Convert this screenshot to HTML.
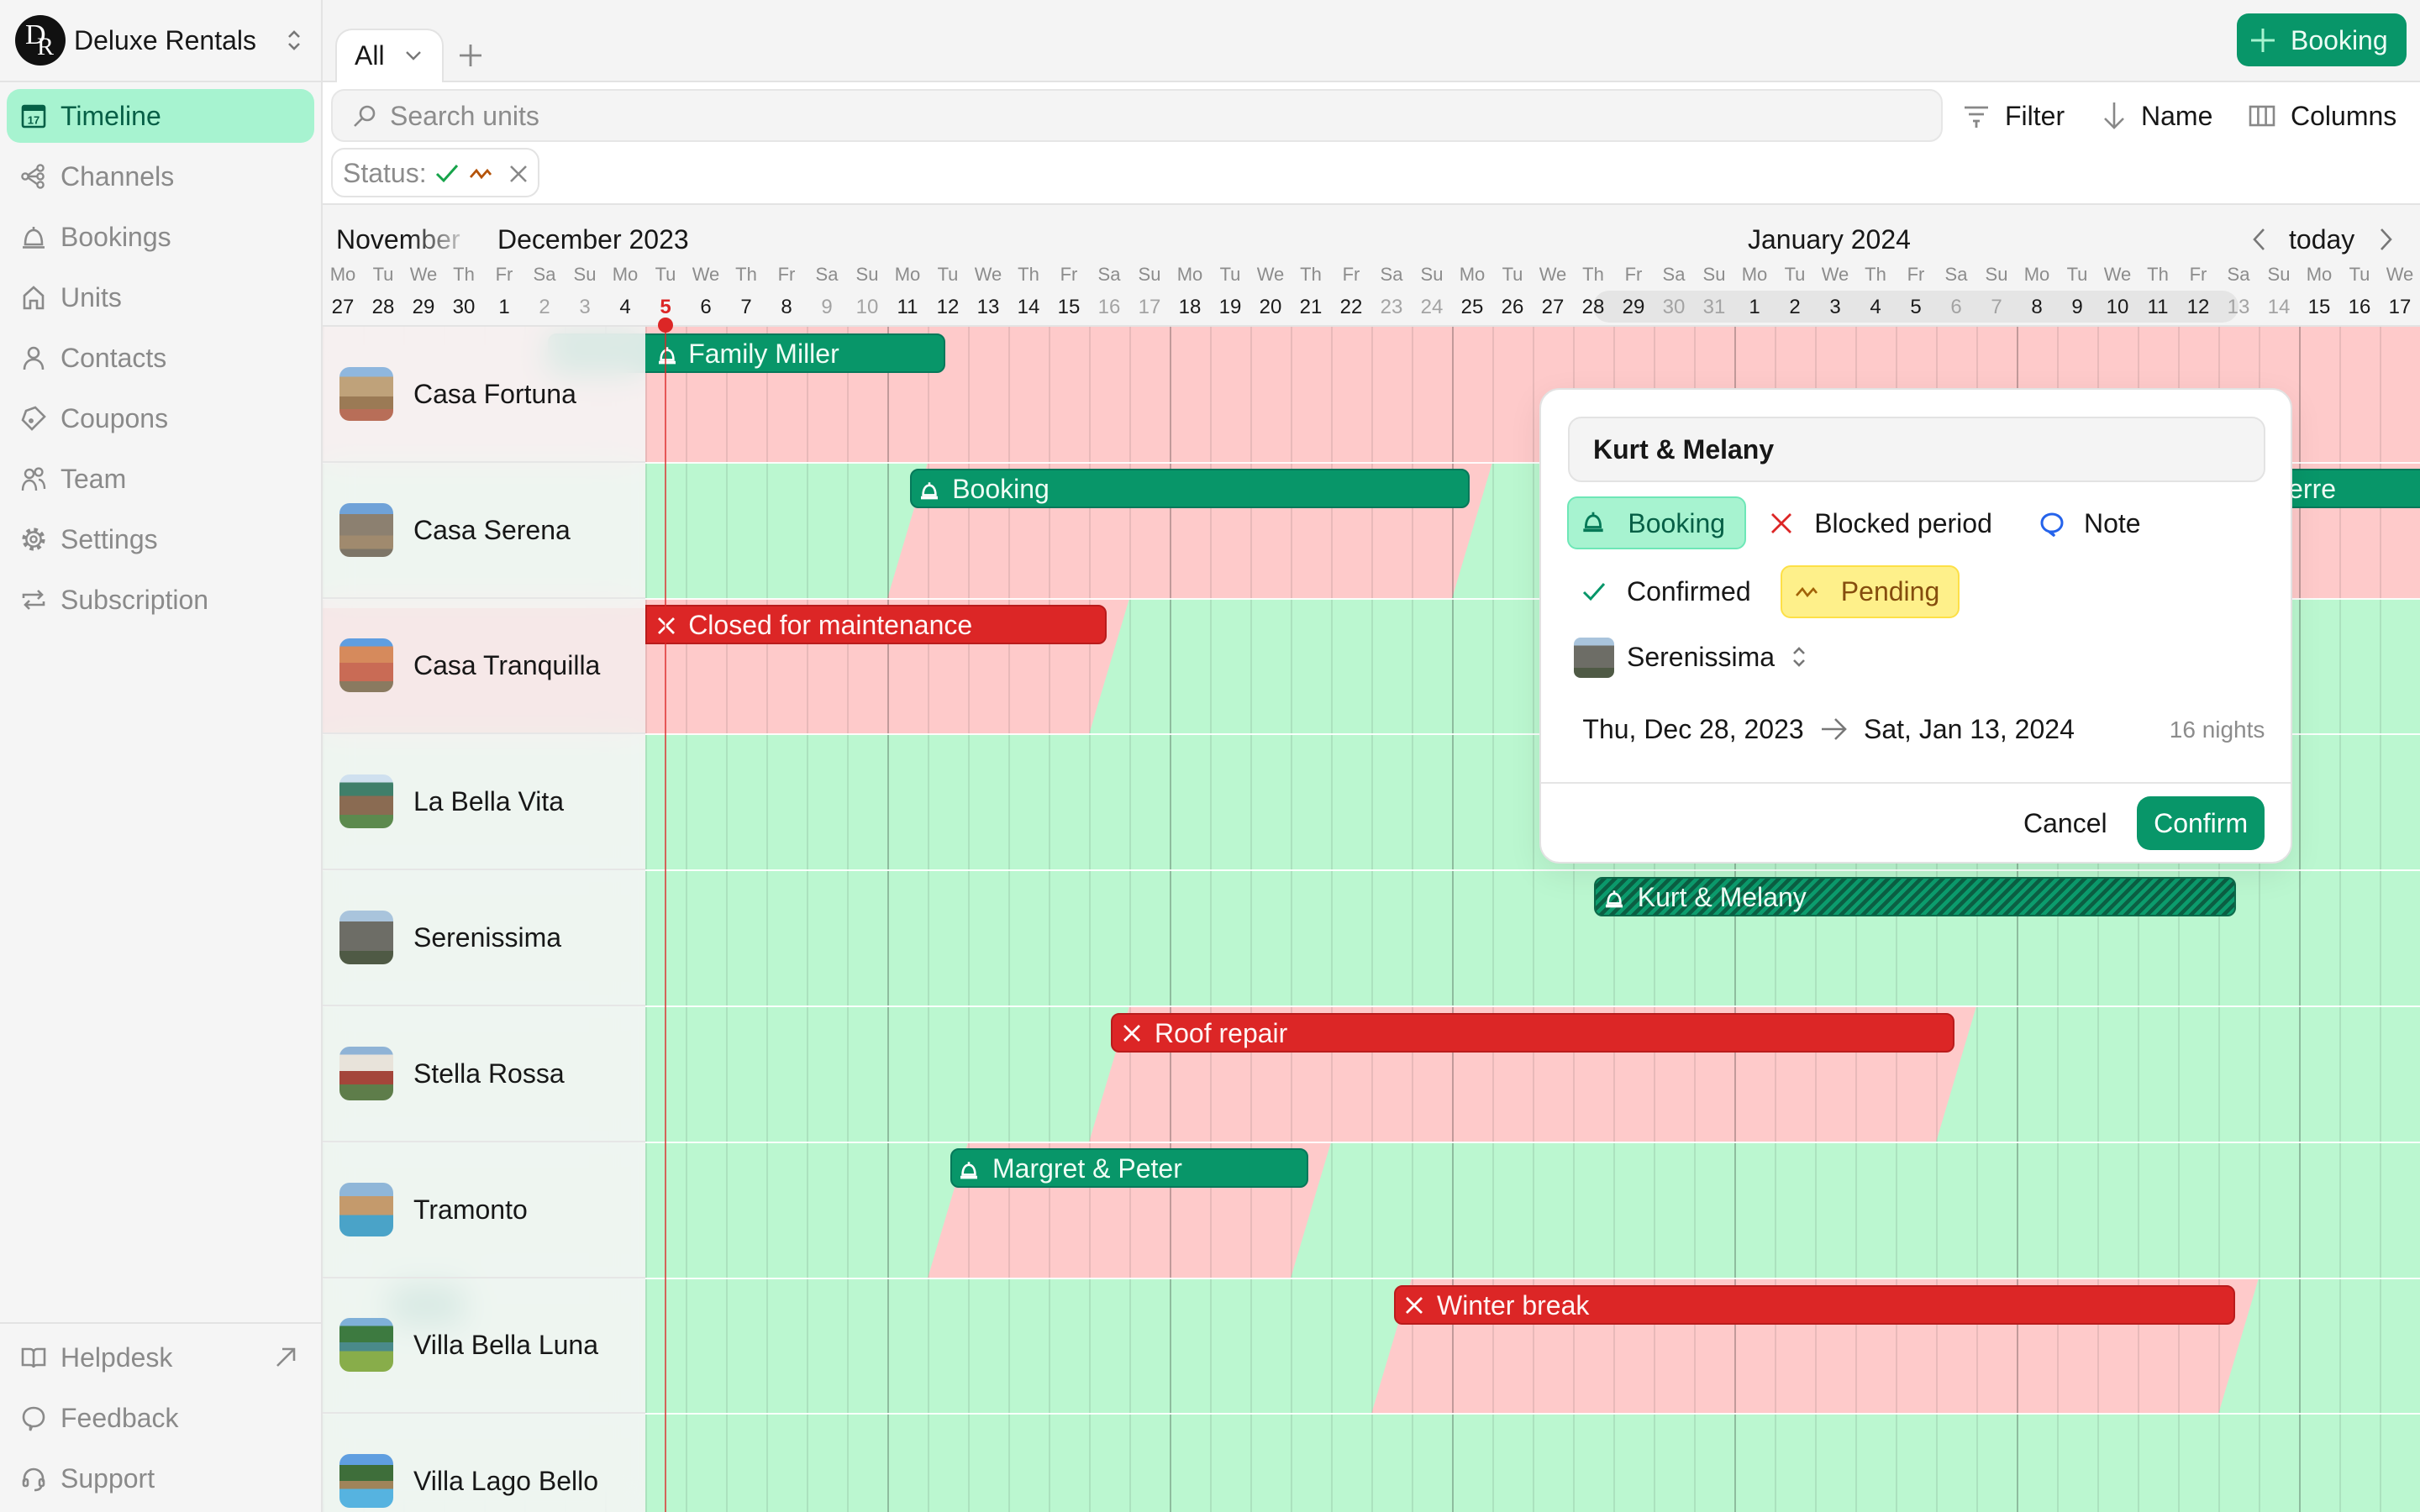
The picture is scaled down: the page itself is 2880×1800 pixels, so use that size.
<!DOCTYPE html>
<html><head><meta charset="utf-8">
<style>
html,body{margin:0;padding:0;width:2880px;height:1800px;overflow:hidden;background:#f4f4f4}
#root{zoom:2;width:1440px;height:900px;position:relative;overflow:hidden;font-family:"Liberation Sans",Arial,sans-serif;font-size:16px;color:#171717;background:#f4f4f4}
.a{position:absolute}
.t{position:absolute;line-height:20px;height:20px;white-space:nowrap}
.nav{position:absolute;left:36px;line-height:20px;height:20px;color:#8a8a8a;white-space:nowrap}
.ic{position:absolute;left:12px}
.row{display:flex;position:absolute;left:192px}
.row span{width:24px;text-align:center;flex:none}
.wk{top:154px;height:19px;line-height:19px;font-size:11px;color:#8c8c8c}
.dt{top:173.5px;height:19px;line-height:19px;font-size:12px;color:#1a1a1a}
.dt .w{color:#a3a3a3}
.bar{position:absolute;height:23.5px;border-radius:5px;box-sizing:border-box;color:#effdf5;overflow:hidden;white-space:nowrap}
.g{background:#089669;border:1px solid #06785a}
.r{background:#dc2626;border:1px solid #b91c1c;color:#fff5f5}
.s{background:repeating-linear-gradient(135deg,#0c9c6d 0 2.3px,#0c5f43 2.3px 4.6px);border:1px solid #0d6a4a}
.bl{position:absolute;top:0.5px;line-height:21.5px;font-size:16px}
.bi{position:absolute;top:5.5px}
.nm{position:absolute;left:246px;line-height:20px;height:20px;white-space:nowrap}
.th{position:absolute;left:202px;width:32px;height:32px;border-radius:6px}
.pd{position:absolute;line-height:20px;height:20px;white-space:nowrap}
</style></head>
<body><div id="root">

<!-- SIDEBAR -->
<div class="a" style="left:0;top:0;width:191px;height:900px;background:#f5f5f5;border-right:1px solid #e3e3e3"></div>
<div class="a" style="left:0;top:48px;width:1440px;height:1px;background:#e3e3e3"></div>
<div class="a" style="left:9px;top:9px;width:30px;height:30px;border-radius:50%;background:#111"></div>
<div class="a" style="left:15px;top:11px;font-family:'Liberation Serif',serif;font-size:17px;color:#fff;line-height:20px">D</div>
<div class="a" style="left:22px;top:19px;font-family:'Liberation Serif',serif;font-size:15px;color:#fff;line-height:18px">R</div>
<div class="t" style="left:44px;top:14px">Deluxe Rentals</div>
<svg class="a" style="left:170px;top:16px" width="10" height="16" viewBox="0 0 10 16"><polyline points="2,6 5,3 8,6" fill="none" stroke="#777" stroke-width="1.3"/><polyline points="2,10 5,13 8,10" fill="none" stroke="#777" stroke-width="1.3"/></svg>

<div class="a" style="left:4px;top:53px;width:183px;height:32px;border-radius:8px;background:#a7f3d0"></div>
<svg class="ic" style="top:61px" width="16" height="16" viewBox="0 0 16 16"><rect x="1.5" y="2" width="13" height="12.5" rx="1" fill="none" stroke="#065f46" stroke-width="1.3"/><rect x="1.5" y="2" width="13" height="3" fill="#065f46"/><text x="8" y="12.8" font-size="6.5" text-anchor="middle" fill="#065f46" font-family="Liberation Sans" font-weight="bold">17</text></svg>
<div class="nav" style="top:59px;color:#065f46">Timeline</div>

<svg class="ic" style="top:97px" width="16" height="16" viewBox="0 0 16 16" fill="none" stroke="#8a8a8a" stroke-width="1.2"><circle cx="3" cy="8" r="1.8"/><circle cx="12" cy="3" r="1.8"/><circle cx="12" cy="8" r="1.8"/><circle cx="12" cy="13" r="1.8"/><path d="M5 8h5M5 7l5-3.5M5 9l5 3.5"/></svg>
<div class="nav" style="top:95px">Channels</div>

<svg class="ic" style="top:133px" width="16" height="16" viewBox="0 0 16 16" fill="none" stroke="#8a8a8a" stroke-width="1.3"><path d="M3 12.5 C3 7 5 4 8 4 C11 4 13 7 13 12.5 Z"/><path d="M8 4V2"/><path d="M1.5 14.2h13"/></svg>
<div class="nav" style="top:131px">Bookings</div>

<svg class="ic" style="top:169px" width="16" height="16" viewBox="0 0 16 16" fill="none" stroke="#8a8a8a" stroke-width="1.3"><path d="M2.5 14.5V7L8 2l5.5 5v7.5H10v-4.5H6v4.5Z"/></svg>
<div class="nav" style="top:167px">Units</div>

<svg class="ic" style="top:205px" width="16" height="16" viewBox="0 0 16 16" fill="none" stroke="#8a8a8a" stroke-width="1.3"><circle cx="8" cy="5" r="3"/><path d="M2.5 15c0-4 2.5-6 5.5-6s5.5 2 5.5 6"/></svg>
<div class="nav" style="top:203px">Contacts</div>

<svg class="ic" style="top:241px" width="16" height="16" viewBox="0 0 16 16" fill="none" stroke="#8a8a8a" stroke-width="1.3"><path d="M9 1.5l5.5 5.5-7.5 7.5-5.5-5.5 2-5.5z"/><circle cx="6.5" cy="9.5" r="0.8"/></svg>
<div class="nav" style="top:239px">Coupons</div>

<svg class="ic" style="top:277px" width="16" height="16" viewBox="0 0 16 16" fill="none" stroke="#8a8a8a" stroke-width="1.2"><circle cx="5.5" cy="5" r="2.5"/><circle cx="11" cy="4" r="2.2"/><path d="M1.5 15c0-4 1.8-6 4-6s4 2 4 6M11 8.5c2 0 3.5 2 3.5 5.5"/></svg>
<div class="nav" style="top:275px">Team</div>

<svg class="ic" style="top:313px" width="16" height="16" viewBox="0 0 16 16" fill="none" stroke="#8a8a8a"><circle cx="8" cy="8" r="5.6" stroke-width="2.4" stroke-dasharray="2.2 2.2"/><circle cx="8" cy="8" r="4.3" stroke-width="1.2"/><circle cx="8" cy="8" r="1.8" stroke-width="1.2"/></svg>
<div class="nav" style="top:311px">Settings</div>

<svg class="ic" style="top:349px" width="16" height="16" viewBox="0 0 16 16" fill="none" stroke="#8a8a8a" stroke-width="1.3"><path d="M2 7V5h11M10.5 2.5L13 5l-2.5 2.5M14 9v2H3M5.5 8.5L3 11l2.5 2.5"/></svg>
<div class="nav" style="top:347px">Subscription</div>

<div class="a" style="left:0;top:787px;width:191px;height:1px;background:#e3e3e3"></div>
<svg class="ic" style="top:800px" width="16" height="16" viewBox="0 0 16 16" fill="none" stroke="#8a8a8a" stroke-width="1.3"><path d="M1.5 3h4.5c1 0 2 .8 2 2v9c0-1-1-1.5-2-1.5H1.5ZM14.5 3H10c-1 0-2 .8-2 2v9c0-1 1-1.5 2-1.5h4.5Z"/></svg>
<div class="nav" style="top:798px">Helpdesk</div>
<svg class="a" style="left:163px;top:801px" width="14" height="14" viewBox="0 0 14 14" fill="none" stroke="#8a8a8a" stroke-width="1.3"><path d="M2 12L12 2M5 2h7v7"/></svg>
<svg class="ic" style="top:836px" width="16" height="16" viewBox="0 0 16 16" fill="none" stroke="#8a8a8a" stroke-width="1.3"><path d="M8 2c3.5 0 6 2.3 6 5.5S11.5 13 8 13H7l-1 2.5V12.6C3.5 12 2 10 2 7.5 2 4.3 4.5 2 8 2z"/></svg>
<div class="nav" style="top:834px">Feedback</div>
<svg class="ic" style="top:872px" width="16" height="16" viewBox="0 0 16 16" fill="none" stroke="#8a8a8a" stroke-width="1.3"><path d="M2.5 10V8a5.5 5.5 0 0 1 11 0v2"/><rect x="2" y="8.5" width="2.5" height="4" rx="1"/><rect x="11.5" y="8.5" width="2.5" height="4" rx="1"/><path d="M12.5 12.5c0 1.5-1.5 2.5-4 2.5"/></svg>
<div class="nav" style="top:870px">Support</div>

<!-- TOP BAR -->
<div class="a" style="left:199.5px;top:17px;width:64.5px;height:32px;background:#fff;border:1px solid #e3e3e3;border-bottom:none;border-radius:10px 10px 0 0;box-sizing:border-box"></div>
<div class="t" style="left:211px;top:23px">All</div>
<svg class="a" style="left:241px;top:29px" width="10" height="8" viewBox="0 0 10 8"><polyline points="1,2 5,6 9,2" fill="none" stroke="#777" stroke-width="1.2"/></svg>
<svg class="a" style="left:273px;top:26px" width="14" height="14" viewBox="0 0 14 14"><path d="M7 0.5v13M0.5 7h13" stroke="#888" stroke-width="1.4"/></svg>

<div class="a" style="left:1331px;top:8px;width:101px;height:31.5px;border-radius:7px;background:#089669"></div>
<svg class="a" style="left:1339px;top:16.5px" width="15" height="15" viewBox="0 0 15 15"><path d="M7.5 0.5v14M0.5 7.5h14" stroke="#a7f3d0" stroke-width="1.5"/></svg>
<div class="t" style="left:1363px;top:14px;color:#ecfdf5">Booking</div>

<!-- TOOLBAR -->
<div class="a" style="left:192px;top:49px;width:1248px;height:72px;background:#fff;border-bottom:1px solid #e3e3e3"></div>
<div class="a" style="left:197px;top:53px;width:959px;height:31.5px;background:#f4f4f4;border:1px solid #e6e6e6;border-radius:8px;box-sizing:border-box"></div>
<svg class="a" style="left:210px;top:62px" width="14" height="14" viewBox="0 0 14 14" fill="none" stroke="#8a8a8a" stroke-width="1.3"><circle cx="8.5" cy="5.5" r="4"/><path d="M5.5 8.5L1 13"/></svg>
<div class="t" style="left:232px;top:59px;color:#8c8c8c">Search units</div>

<svg class="a" style="left:1168px;top:62px" width="16" height="14" viewBox="0 0 16 14" stroke="#888" stroke-width="1.4"><path d="M1 2h14M3.5 6h9M6 10h4M8 10v4"/></svg>
<div class="t" style="left:1193px;top:59px">Filter</div>
<svg class="a" style="left:1251px;top:60px" width="14" height="17" viewBox="0 0 14 17" fill="none" stroke="#888" stroke-width="1.3"><path d="M7 1v15M1.5 10.5L7 16l5.5-5.5"/></svg>
<div class="t" style="left:1274px;top:59px">Name</div>
<svg class="a" style="left:1338px;top:62px" width="16" height="14" viewBox="0 0 16 14" fill="none" stroke="#888" stroke-width="1.3"><rect x="1" y="1.5" width="14" height="11"/><path d="M5.7 1.5v11M10.3 1.5v11"/></svg>
<div class="t" style="left:1363px;top:59px">Columns</div>

<div class="a" style="left:197px;top:88px;width:124px;height:29.5px;border:1px solid #e3e3e3;border-radius:8px;background:#fff;box-sizing:border-box"></div>
<div class="t" style="left:204px;top:93px;color:#8c8c8c">Status:</div>
<svg class="a" style="left:259px;top:97px" width="14" height="12" viewBox="0 0 14 12" fill="none" stroke="#16a34a" stroke-width="1.5"><path d="M1 6.5l4 4L13 1.5"/></svg>
<svg class="a" style="left:279px;top:99px" width="14" height="9" viewBox="0 0 14 9" fill="none" stroke="#b45309" stroke-width="1.4"><path d="M1 6.5l3.5-4 3 4 3.5-4 2 2.5"/></svg>
<svg class="a" style="left:303px;top:98px" width="11" height="11" viewBox="0 0 11 11" stroke="#888" stroke-width="1.3"><path d="M1 1l9 9M10 1l-9 9"/></svg>

<!-- DATE HEADER -->
<div class="t" style="left:200px;top:132.5px;background:linear-gradient(90deg,#171717 0,#171717 58%,#c4c4c4 100%);-webkit-background-clip:text;background-clip:text;color:transparent">November</div>
<div class="t" style="left:296px;top:132.5px">December 2023</div>
<div class="t" style="left:1040px;top:132.5px">January 2024</div>
<svg class="a" style="left:1340px;top:135.5px" width="8" height="14" viewBox="0 0 8 14" fill="none" stroke="#777" stroke-width="1.3"><path d="M7 1L1.5 7 7 13"/></svg>
<div class="t" style="left:1362px;top:132.5px">today</div>
<svg class="a" style="left:1416px;top:135.5px" width="8" height="14" viewBox="0 0 8 14" fill="none" stroke="#777" stroke-width="1.3"><path d="M1 1l5.5 6L1 13"/></svg>

<div class="a" style="left:948px;top:173px;width:384px;height:19px;border-radius:9.5px;background:#e5e5e5"></div>

<div class="row wk"><span>Mo</span><span>Tu</span><span>We</span><span>Th</span><span>Fr</span><span>Sa</span><span>Su</span><span>Mo</span><span>Tu</span><span>We</span><span>Th</span><span>Fr</span><span>Sa</span><span>Su</span><span>Mo</span><span>Tu</span><span>We</span><span>Th</span><span>Fr</span><span>Sa</span><span>Su</span><span>Mo</span><span>Tu</span><span>We</span><span>Th</span><span>Fr</span><span>Sa</span><span>Su</span><span>Mo</span><span>Tu</span><span>We</span><span>Th</span><span>Fr</span><span>Sa</span><span>Su</span><span>Mo</span><span>Tu</span><span>We</span><span>Th</span><span>Fr</span><span>Sa</span><span>Su</span><span>Mo</span><span>Tu</span><span>We</span><span>Th</span><span>Fr</span><span>Sa</span><span>Su</span><span>Mo</span><span>Tu</span><span>We</span></div>
<div class="row dt"><span>27</span><span>28</span><span>29</span><span>30</span><span>1</span><span class="w">2</span><span class="w">3</span><span>4</span><span style="color:#dc2626;font-weight:bold">5</span><span>6</span><span>7</span><span>8</span><span class="w">9</span><span class="w">10</span><span>11</span><span>12</span><span>13</span><span>14</span><span>15</span><span class="w">16</span><span class="w">17</span><span>18</span><span>19</span><span>20</span><span>21</span><span>22</span><span class="w">23</span><span class="w">24</span><span>25</span><span>26</span><span>27</span><span>28</span><span>29</span><span class="w">30</span><span class="w">31</span><span>1</span><span>2</span><span>3</span><span>4</span><span>5</span><span class="w">6</span><span class="w">7</span><span>8</span><span>9</span><span>10</span><span>11</span><span>12</span><span class="w">13</span><span class="w">14</span><span>15</span><span>16</span><span>17</span></div>

<div class="a" style="left:192px;top:193.5px;width:1248px;height:1px;background:#e3e3e3"></div>

<!-- GRID -->
<svg class="a" style="left:192px;top:194.5px" width="1248" height="706" viewBox="0 0 1248 706">
<rect x="0" y="0" width="1248" height="706" fill="#bbf7d0"/>
<g fill="#fecaca">
<rect x="0" y="0" width="1248" height="80.9"/>
<polygon points="360,80.9 696,80.9 672,161.8 336,161.8"/>
<polygon points="1110,80.9 1260,80.9 1260,161.8 1086,161.8"/>
<polygon points="0,161.8 480,161.8 456,242.7 0,242.7"/>
<polygon points="480,404.5 984,404.5 960,485.4 456,485.4"/>
<polygon points="384,485.4 600,485.4 576,566.3 360,566.3"/>
<polygon points="648,566.3 1152,566.3 1128,647.2 624,647.2"/>
</g>
</svg>
<div class="a" style="left:192px;top:194.5px;width:1248px;height:706px;background:repeating-linear-gradient(90deg,rgba(0,0,0,0.17) 0 1px,transparent 1px 168px),repeating-linear-gradient(90deg,rgba(0,0,0,0.085) 0 1px,transparent 1px 24px)"></div>
<div class="a" style="left:192px;top:274.9px;width:1248px;height:1px;background:rgba(255,255,255,.9)"></div>
<div class="a" style="left:192px;top:355.8px;width:1248px;height:1px;background:rgba(255,255,255,.9)"></div>
<div class="a" style="left:192px;top:436.7px;width:1248px;height:1px;background:rgba(255,255,255,.9)"></div>
<div class="a" style="left:192px;top:517.6px;width:1248px;height:1px;background:rgba(255,255,255,.9)"></div>
<div class="a" style="left:192px;top:598.5px;width:1248px;height:1px;background:rgba(255,255,255,.9)"></div>
<div class="a" style="left:192px;top:679.4px;width:1248px;height:1px;background:rgba(255,255,255,.9)"></div>
<div class="a" style="left:192px;top:760.3px;width:1248px;height:1px;background:rgba(255,255,255,.9)"></div>
<div class="a" style="left:192px;top:841.2px;width:1248px;height:1px;background:rgba(255,255,255,.9)"></div>

<!-- BARS -->
<div class="bar g" style="left:326px;top:198.4px;width:236.5px">
 <svg class="bi" style="left:64px" width="12" height="12" viewBox="0 0 12 12" fill="none" stroke="#fff" stroke-width="1.3"><path d="M2.3 9.2C2.3 5.5 3.8 3.4 6 3.4s3.7 2.1 3.7 5.8Z"/><path d="M6 3.4V1.6"/><path d="M1 10.8h10" stroke-width="1.8"/></svg>
 <span class="bl" style="left:82.6px">Family Miller</span></div>
<div class="bar g" style="left:541.6px;top:279.1px;width:333px">
 <svg class="bi" style="left:4.5px" width="12" height="12" viewBox="0 0 12 12" fill="none" stroke="#fff" stroke-width="1.3"><path d="M2.3 9.2C2.3 5.5 3.8 3.4 6 3.4s3.7 2.1 3.7 5.8Z"/><path d="M6 3.4V1.6"/><path d="M1 10.8h10" stroke-width="1.8"/></svg>
 <span class="bl" style="left:24px">Booking</span></div>
<div class="bar g" style="left:1270px;top:279.1px;width:200px">
 <span class="bl" style="left:19.4px">Anne &amp; Pierre</span></div>
<div class="bar r" style="left:384px;top:360px;width:274.4px;border-radius:0 5px 5px 0">
 <svg class="bi" style="left:6px;top:5.8px" width="11" height="11" viewBox="0 0 11 11" stroke="#fff" stroke-width="1.4"><path d="M1 1l9 9M10 1l-9 9"/></svg>
 <span class="bl" style="left:24.6px">Closed for maintenance</span></div>
<div class="bar s" style="left:948.7px;top:522px;width:382px">
 <svg class="bi" style="left:5px" width="12" height="12" viewBox="0 0 12 12" fill="none" stroke="#fff" stroke-width="1.3"><path d="M2.3 9.2C2.3 5.5 3.8 3.4 6 3.4s3.7 2.1 3.7 5.8Z"/><path d="M6 3.4V1.6"/><path d="M1 10.8h10" stroke-width="1.8"/></svg>
 <span class="bl" style="left:24.7px">Kurt &amp; Melany</span></div>
<div class="bar r" style="left:661px;top:602.8px;width:502px">
 <svg class="bi" style="left:6px;top:5.8px" width="11" height="11" viewBox="0 0 11 11" stroke="#fff" stroke-width="1.4"><path d="M1 1l9 9M10 1l-9 9"/></svg>
 <span class="bl" style="left:25px">Roof repair</span></div>
<div class="bar g" style="left:565.7px;top:683.7px;width:213px">
 <svg class="bi" style="left:4px" width="12" height="12" viewBox="0 0 12 12" fill="none" stroke="#fff" stroke-width="1.3"><path d="M2.3 9.2C2.3 5.5 3.8 3.4 6 3.4s3.7 2.1 3.7 5.8Z"/><path d="M6 3.4V1.6"/><path d="M1 10.8h10" stroke-width="1.8"/></svg>
 <span class="bl" style="left:23.8px">Margret &amp; Peter</span></div>
<div class="bar r" style="left:829.4px;top:764.8px;width:500.6px">
 <svg class="bi" style="left:5.5px;top:5.8px" width="11" height="11" viewBox="0 0 11 11" stroke="#fff" stroke-width="1.4"><path d="M1 1l9 9M10 1l-9 9"/></svg>
 <span class="bl" style="left:24.6px">Winter break</span></div>
<div class="bar g" style="left:232px;top:764.8px;width:44px"></div>

<!-- TODAY LINE -->
<div class="a" style="left:395.5px;top:194px;width:1px;height:706px;background:rgba(220,38,38,.7)"></div>
<div class="a" style="left:391.5px;top:188.8px;width:9px;height:9px;border-radius:50%;background:#dc2626"></div>

<!-- NAME PANEL -->
<div class="a" style="left:192px;top:194.5px;width:192px;height:706px;background:rgba(245,245,245,.88);-webkit-backdrop-filter:blur(9px);backdrop-filter:blur(9px)"></div>
<div class="a" style="left:192px;top:362px;width:192px;height:74px;background:rgba(250,200,200,.18)"></div>
<div class="a" style="left:192px;top:274.4px;width:192px;height:1px;background:#e6e6e6"></div>
<div class="a" style="left:192px;top:355.3px;width:192px;height:1px;background:#e6e6e6"></div>
<div class="a" style="left:192px;top:436.2px;width:192px;height:1px;background:#e6e6e6"></div>
<div class="a" style="left:192px;top:517.1px;width:192px;height:1px;background:#e6e6e6"></div>
<div class="a" style="left:192px;top:598px;width:192px;height:1px;background:#e6e6e6"></div>
<div class="a" style="left:192px;top:678.9px;width:192px;height:1px;background:#e6e6e6"></div>
<div class="a" style="left:192px;top:759.8px;width:192px;height:1px;background:#e6e6e6"></div>
<div class="a" style="left:192px;top:840.7px;width:192px;height:1px;background:#e6e6e6"></div>

<div class="th" style="top:218.4px;background:linear-gradient(180deg,#8fb7de 0 18%,#bfa27a 18% 55%,#9b7a55 55% 78%,#b86e58 78%)"></div>
<div class="nm" style="top:224.4px">Casa Fortuna</div>
<div class="th" style="top:299.3px;background:linear-gradient(180deg,#6fa2d8 0 20%,#8c8070 20% 60%,#a08a6e 60% 85%,#7d7567 85%)"></div>
<div class="nm" style="top:305.3px">Casa Serena</div>
<div class="th" style="top:380.2px;background:linear-gradient(180deg,#5f9ee0 0 15%,#d68a5c 15% 45%,#c96b55 45% 80%,#8a7a60 80%)"></div>
<div class="nm" style="top:386.2px">Casa Tranquilla</div>
<div class="th" style="top:461.1px;background:linear-gradient(180deg,#cfe0ef 0 15%,#3f7f6a 15% 40%,#8a6b52 40% 75%,#5c8a4e 75%)"></div>
<div class="nm" style="top:467.1px">La Bella Vita</div>
<div class="th" style="top:542px;background:linear-gradient(180deg,#a9c4dc 0 20%,#6d6d66 20% 75%,#4f5a45 75%)"></div>
<div class="nm" style="top:548px">Serenissima</div>
<div class="th" style="top:622.9px;background:linear-gradient(180deg,#8fb3d6 0 15%,#e8e3da 15% 45%,#a4453a 45% 70%,#5e7d4a 70%)"></div>
<div class="nm" style="top:628.9px">Stella Rossa</div>
<div class="th" style="top:703.8px;background:linear-gradient(180deg,#8fb6d8 0 25%,#c49a6c 25% 60%,#4aa3c8 60%)"></div>
<div class="nm" style="top:709.8px">Tramonto</div>
<div class="th" style="top:784.7px;background:linear-gradient(180deg,#7fb0d8 0 15%,#3d7a40 15% 45%,#4a8a8a 45% 62%,#88ad4a 62%)"></div>
<div class="nm" style="top:790.7px">Villa Bella Luna</div>
<div class="th" style="top:865.6px;background:linear-gradient(180deg,#5f9ee0 0 20%,#3e6e3a 20% 50%,#a0845a 50% 65%,#56b3e0 65%)"></div>
<div class="nm" style="top:871.6px">Villa Lago Bello</div>

<!-- POPUP -->
<div class="a" style="left:916px;top:231px;width:448px;height:283px;background:#fff;border:1px solid #e2e2e2;border-radius:12px;box-shadow:0 6px 20px rgba(0,0,0,.08);box-sizing:border-box">
 <div class="a" style="left:16px;top:16px;width:415px;height:39px;background:#f4f4f4;border:1px solid #e3e3e3;border-radius:8px;box-sizing:border-box"></div>
 <div class="pd" style="left:31px;top:25.5px;font-weight:bold">Kurt &amp; Melany</div>

 <div class="a" style="left:15.6px;top:63.5px;width:106.4px;height:31.7px;background:#a7f3d0;border:1px solid #6ee7b7;border-radius:6px;box-sizing:border-box"></div>
 <svg class="a" style="left:24px;top:71px" width="14" height="14" viewBox="0 0 12 12" fill="none" stroke="#047857" stroke-width="1.2"><path d="M2.3 9.2C2.3 5.5 3.8 3.4 6 3.4s3.7 2.1 3.7 5.8Z"/><path d="M6 3.4V1.6"/><path d="M1 10.8h10" stroke-width="1.6"/></svg>
 <div class="pd" style="left:51.7px;top:69.5px;color:#065f46">Booking</div>
 <svg class="a" style="left:136.6px;top:73px" width="13" height="13" viewBox="0 0 13 13" stroke="#dc2626" stroke-width="1.4"><path d="M1 1l11 11M12 1L1 12"/></svg>
 <div class="pd" style="left:162.6px;top:69.5px">Blocked period</div>
 <svg class="a" style="left:296px;top:72px" width="16" height="16" viewBox="0 0 16 16" fill="none" stroke="#2563eb" stroke-width="1.5"><path d="M8 2c3.3 0 6 2.2 6 5.2S11.3 12.5 8 12.5H7.5l2 2.5-3.5-2.7C3.7 11.6 2 9.7 2 7.2 2 4.2 4.7 2 8 2z"/></svg>
 <div class="pd" style="left:323px;top:69.5px">Note</div>

 <svg class="a" style="left:24.5px;top:114px" width="14" height="12" viewBox="0 0 14 12" fill="none" stroke="#059669" stroke-width="1.5"><path d="M1 6.5l4 4L13 1.5"/></svg>
 <div class="pd" style="left:51px;top:110px">Confirmed</div>
 <div class="a" style="left:142.6px;top:104.5px;width:106.2px;height:31.6px;background:#fef08a;border:1px solid #fde047;border-radius:6px;box-sizing:border-box"></div>
 <svg class="a" style="left:151px;top:116px" width="14" height="9" viewBox="0 0 14 9" fill="none" stroke="#a16207" stroke-width="1.3"><path d="M1 6.5l3.5-4 3 4 3.5-4 2 2.5"/></svg>
 <div class="pd" style="left:178.4px;top:110px;color:#854d0e">Pending</div>

 <div class="a" style="left:19.4px;top:147.5px;width:24px;height:24px;border-radius:4px;background:linear-gradient(180deg,#a9c4dc 0 20%,#6d6d66 20% 75%,#4f5a45 75%)"></div>
 <div class="pd" style="left:51px;top:149px">Serenissima</div>
 <svg class="a" style="left:148.7px;top:151px" width="10" height="16" viewBox="0 0 10 16"><polyline points="2,6 5,3 8,6" fill="none" stroke="#777" stroke-width="1.3"/><polyline points="2,10 5,13 8,10" fill="none" stroke="#777" stroke-width="1.3"/></svg>

 <div class="pd" style="left:24.7px;top:192px">Thu, Dec 28, 2023</div>
 <svg class="a" style="left:166px;top:195px" width="16" height="14" viewBox="0 0 16 14" fill="none" stroke="#777" stroke-width="1.3"><path d="M1 7h14M9 1l6 6-6 6"/></svg>
 <div class="pd" style="left:192px;top:192px">Sat, Jan 13, 2024</div>
 <div class="pd" style="right:15.3px;top:192.5px;font-size:14px;color:#8c8c8c">16 nights</div>

 <div class="a" style="left:0;top:233.5px;width:446px;height:1px;background:#e5e5e5"></div>
 <div class="pd" style="left:287px;top:248px">Cancel</div>
 <div class="a" style="left:354.4px;top:242px;width:76.3px;height:32px;border-radius:8px;background:#089669;color:#fff;text-align:center;line-height:32px">Confirm</div>
</div>

</div></body></html>
